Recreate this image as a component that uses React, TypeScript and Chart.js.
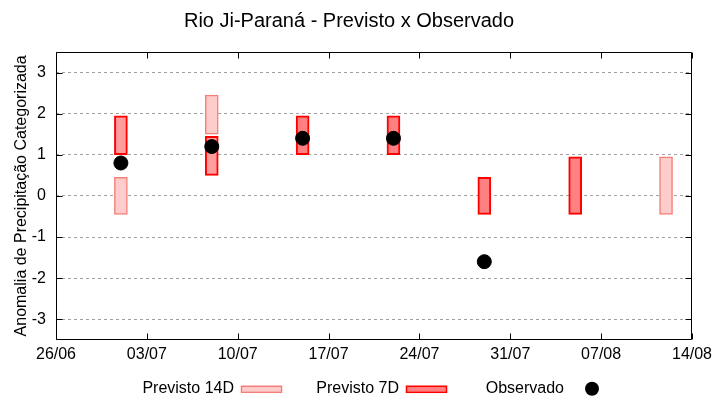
import React, { useEffect, useRef } from 'react';
import { Chart, registerables } from 'chart.js';

Chart.register(...registerables);

const TITLE = 'Rio Ji-Paraná - Previsto x Observado';
const Y_TITLE = 'Anomalia de Precipitação Categorizada';
const START = '26/06';
const xTickLabels = ['26/06', '03/07', '10/07', '17/07', '24/07', '31/07', '07/08', '14/08'];
const yTicks = [-3, -2, -1, 0, 1, 2, 3];

const dates = ['01/07', '08/07', '15/07', '22/07', '29/07', '05/08', '12/08'];
const prev14Low = [-0.45, 1.5, null, null, null, null, -0.45];
const prev14High = [0.45, 2.45, null, null, null, null, 0.95];
const prev7Low = [1.0, 0.5, 1.0, 1.0, -0.45, -0.45, null];
const prev7High = [1.95, 1.45, 1.95, 1.95, 0.45, 0.95, null];
const observed = [0.8, 1.2, 1.4, 1.4, -1.6, null, null];

const LABEL_14 = 'Previsto 14D';
const LABEL_7 = 'Previsto 7D';
const LABEL_OBS = 'Observado';

const FONT = '"Liberation Sans", Arial, Helvetica, sans-serif';
const C14_FILL = '#ffcccc';
const C14_BORDER = '#f4807a';
const C7_FILL = '#ff8080';
const C7_FILL_LIGHT = '#ff9c9c';
const C7_BORDER = '#ff0000';

function dayOffset(ddmm: string): number {
  const [d, m] = ddmm.split('/').map(Number);
  const [d0, m0] = START.split('/').map(Number);
  return Math.round((Date.UTC(2000, m - 1, d) - Date.UTC(2000, m0 - 1, d0)) / 86400000);
}

function rangePoints(lows: (number | null)[], highs: (number | null)[]) {
  const out: { x: number; y: [number, number] }[] = [];
  dates.forEach((d, i) => {
    const lo = lows[i];
    const hi = highs[i];
    if (lo != null && hi != null) out.push({ x: dayOffset(d), y: [lo, hi] });
  });
  return out;
}

function obsPoints() {
  const out: { x: number; y: number }[] = [];
  dates.forEach((d, i) => {
    const v = observed[i];
    if (v != null) out.push({ x: dayOffset(d), y: v });
  });
  return out;
}

const data14 = rangePoints(prev14Low, prev14High);
const data7 = rangePoints(prev7Low, prev7High);
const dataObs = obsPoints();
const has14 = new Set(data14.map((p) => p.x));

const framePlugin = {
  id: 'gnuFrame',
  afterDatasetsDraw(chart: any) {
    const { ctx, chartArea: a, scales } = chart;
    const L = Math.round(a.left) + 0.5;
    const R = Math.round(a.right) - 0.5;
    const T = Math.round(a.top) + 0.5;
    const B = Math.round(a.bottom) - 0.5;
    ctx.save();
    ctx.strokeStyle = '#000';
    ctx.lineWidth = 1;
    ctx.setLineDash([]);
    ctx.beginPath();
    ctx.rect(L, T, R - L, B - T);
    const tl = 6;
    scales.y.ticks.forEach((t: any) => {
      const py = Math.round(scales.y.getPixelForValue(t.value)) + 0.5;
      ctx.moveTo(L, py);
      ctx.lineTo(L + tl, py);
      ctx.moveTo(R, py);
      ctx.lineTo(R - tl, py);
    });
    scales.x.ticks.forEach((t: any) => {
      const px = Math.round(scales.x.getPixelForValue(t.value)) + 0.5;
      ctx.moveTo(px, B);
      ctx.lineTo(px, B - tl);
      ctx.moveTo(px, T);
      ctx.lineTo(px, T + tl);
    });
    ctx.stroke();
    ctx.restore();
  },
};

const legendPlugin = {
  id: 'gnuLegend',
  afterDraw(chart: any) {
    const { ctx, chartArea: a } = chart;
    const cx = (a.left + a.right) / 2;
    const colW = 165;
    const baseY = a.bottom + 53;
    const sampleY = a.bottom + 49;
    ctx.save();
    ctx.font = `16px ${FONT}`;
    ctx.fillStyle = '#000';
    ctx.textAlign = 'right';
    ctx.textBaseline = 'alphabetic';
    const items = [
      { label: LABEL_14, kind: 'bar', fill: C14_FILL, border: C14_BORDER },
      { label: LABEL_7, kind: 'bar', fill: C7_FILL, border: C7_BORDER },
      { label: LABEL_OBS, kind: 'dot', fill: '#000', border: '#000' },
    ];
    items.forEach((it, i) => {
      const endX = Math.round(cx + 25 + (i - 1) * colW);
      ctx.fillStyle = '#000';
      ctx.fillText(it.label, endX, baseY);
      const sx = endX + 7;
      if (it.kind === 'bar') {
        ctx.fillStyle = it.fill;
        ctx.fillRect(sx, sampleY - 3, 41, 6);
        ctx.strokeStyle = it.border;
        ctx.lineWidth = 1.5;
        ctx.strokeRect(sx + 0.5, sampleY - 3 + 0.5, 40, 6);
      } else {
        ctx.fillStyle = it.fill;
        ctx.beginPath();
        ctx.arc(sx + 21, sampleY, 7, 0, Math.PI * 2);
        ctx.fill();
      }
    });
    ctx.restore();
  },
};

export default function App() {
  const canvasRef = useRef<HTMLCanvasElement | null>(null);

  useEffect(() => {
    const canvas = canvasRef.current;
    if (!canvas) return;
    Chart.defaults.font.family = FONT;
    Chart.defaults.color = '#000';
    const chart = new Chart(canvas, {
      type: 'bar',
      data: {
        datasets: [
          {
            type: 'scatter',
            label: LABEL_OBS,
            data: dataObs,
            backgroundColor: '#000',
            borderColor: '#000',
            pointRadius: 7,
            pointHoverRadius: 7,
            order: 0,
          } as any,
          {
            type: 'bar',
            label: LABEL_7,
            data: data7 as any,
            backgroundColor: (c: any) => (c.raw && has14.has(c.raw.x) ? C7_FILL_LIGHT : C7_FILL),
            borderColor: C7_BORDER,
            borderWidth: 2,
            borderSkipped: false,
            barThickness: 13,
            grouped: false,
            order: 1,
          } as any,
          {
            type: 'bar',
            label: LABEL_14,
            data: data14 as any,
            backgroundColor: C14_FILL,
            borderColor: C14_BORDER,
            borderWidth: 1.5,
            borderSkipped: false,
            barThickness: 13,
            grouped: false,
            order: 2,
          } as any,
        ],
      },
      options: {
        responsive: false,
        animation: false,
        layout: { padding: { left: 6, right: 28, top: 0, bottom: 31 } },
        plugins: {
          legend: { display: false },
          tooltip: { enabled: false },
          title: {
            display: true,
            text: TITLE,
            color: '#000',
            font: { size: 20, weight: 'normal' as any, family: FONT },
            padding: { top: 9, bottom: 19 },
          },
        },
        scales: {
          x: {
            type: 'linear',
            min: dayOffset(xTickLabels[0]),
            max: dayOffset(xTickLabels[xTickLabels.length - 1]),
            offset: false,
            grid: { display: false, drawTicks: false },
            border: { display: false },
            afterBuildTicks: (scale: any) => {
              scale.ticks = xTickLabels.map((l) => ({ value: dayOffset(l) }));
            },
            ticks: {
              padding: 5,
              color: '#000',
              font: { size: 16, family: FONT },
              maxRotation: 0,
              autoSkip: false,
              callback: (v: any) => {
                const idx = xTickLabels.findIndex((l) => dayOffset(l) === Number(v));
                return idx >= 0 ? xTickLabels[idx] : '';
              },
            },
          },
          y: {
            type: 'linear',
            min: yTicks[0] - 0.5,
            max: yTicks[yTicks.length - 1] + 0.5,
            afterBuildTicks: (scale: any) => {
              scale.ticks = yTicks.map((v) => ({ value: v }));
            },
            afterFit: (scale: any) => {
              scale.width = 50;
            },
            grid: {
              drawTicks: false,
              color: '#a0a0a0',
              lineWidth: 1,
            },
            border: { display: false, dash: [3, 3] },
            ticks: {
              padding: 10,
              color: '#000',
              font: { size: 16, family: FONT },
            } as any,
            title: {
              display: true,
              text: Y_TITLE,
              color: '#000',
              font: { size: 16, family: FONT },
              padding: { top: 6, bottom: 0 },
            },
          },
        },
      },
      plugins: [framePlugin, legendPlugin],
    });
    return () => chart.destroy();
  }, []);

  return (
    <div style={{ position: 'absolute', left: 0, top: 0, width: 720, height: 400, background: '#fff' }}>
      <canvas ref={canvasRef} width={720} height={400} />
    </div>
  );
}
